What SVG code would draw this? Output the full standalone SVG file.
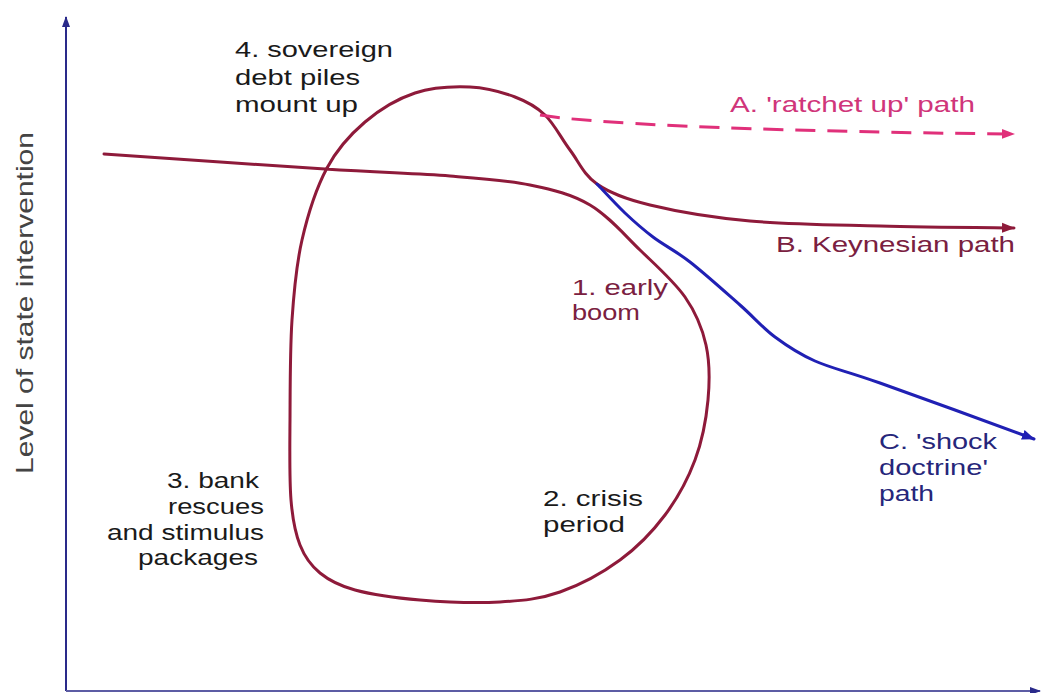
<svg xmlns="http://www.w3.org/2000/svg" width="1042" height="693" viewBox="0 0 1042 693">
<style>
  text { font-family: "Liberation Sans", Arial, sans-serif; font-size: 22px; }
  .blk { fill: #1a1a1a; }
  .red { fill: #7a2040; }
  .pink { fill: #d0357a; }
  .blue { fill: #26267a; }
  .ylab { fill: #444; font-size: 24px; }
  .curve { fill: none; stroke: #8e1a3a; stroke-width: 3; stroke-linecap: round; stroke-linejoin: round; }
  .shock { fill: none; stroke: #2020b4; stroke-width: 3; stroke-linecap: round; }
  .ratchet { fill: none; stroke: #e0307a; stroke-width: 3; stroke-dasharray: 20 12; }
  .axis { fill: none; stroke: #2a2a8a; stroke-width: 2; }
  .axisx { fill: none; stroke: #5c5ca4; stroke-width: 2; }
</style>
<defs>
  <marker id="arrRed" markerUnits="userSpaceOnUse" markerWidth="14" markerHeight="12" refX="12" refY="6" orient="auto">
    <path d="M0,1 L13,6 L0,11 Z" fill="#8e1a3a"/>
  </marker>
  <marker id="arrPink" markerUnits="userSpaceOnUse" markerWidth="14" markerHeight="12" refX="12" refY="6" orient="auto">
    <path d="M0,1 L13,6 L0,11 Z" fill="#e0307a"/>
  </marker>
  <marker id="arrBlue" markerUnits="userSpaceOnUse" markerWidth="14" markerHeight="12" refX="12" refY="6" orient="auto">
    <path d="M0,1 L13,6 L0,11 Z" fill="#2020b4"/>
  </marker>
  <marker id="arrAxis" markerUnits="userSpaceOnUse" markerWidth="12" markerHeight="10" refX="10" refY="5" orient="auto">
    <path d="M0,1 L11,5 L0,9 Z" fill="#2a2a8a"/>
  </marker>
</defs>

<g id="axes">
  <line class="axis" x1="66" y1="691" x2="66" y2="17" marker-end="url(#arrAxis)"/>
  <line class="axisx" x1="66" y1="691" x2="1040" y2="691" marker-end="url(#arrAxis)"/>
  <text class="ylab" transform="translate(33,303) rotate(-90)" text-anchor="middle" textLength="342" lengthAdjust="spacingAndGlyphs">Level of state intervention</text>
</g>

<g id="connectors">
  <path id="cycle-and-B" class="curve" marker-end="url(#arrRed)" d="M104,154 C140.8,156.5 267.3,165.3 325,169 C382.7,172.7 415.8,173.3 450,176 C484.2,178.7 506.7,180.2 530,185 C553.3,189.8 571.7,194.2 590,205 C608.3,215.8 624.2,234.7 640,250 C655.8,265.3 674,281.2 685,297 C696,312.8 702.2,327.8 706,345 C709.8,362.2 709.8,380.8 708,400 C706.2,419.2 702.2,440.8 695,460 C687.8,479.2 677.5,498.3 665,515 C652.5,531.7 637.5,547.2 620,560 C602.5,572.8 580,585 560,592 C540,599 523.3,600.7 500,602 C476.7,603.3 444.2,602 420,600 C395.8,598 371.7,594.5 355,590 C338.3,585.5 329.2,580.5 320,573 C310.8,565.5 304.8,557.2 300,545 C295.2,532.8 292.7,520.8 291,500 C289.3,479.2 289.8,450 290,420 C290.2,390 290,350 292,320 C294,290 296.2,265.3 302,240 C307.8,214.7 316.5,187.7 327,168 C337.5,148.3 350.3,134.5 365,122 C379.7,109.5 397.5,98.8 415,93 C432.5,87.2 453.3,86.3 470,87 C486.7,87.7 502.5,92.3 515,97 C527.5,101.7 535.8,106.2 545,115 C554.2,123.8 561.3,138.5 570,150 C578.7,161.5 583.7,174.8 597,184 C610.3,193.2 624.5,198.8 650,205 C675.5,211.2 711.7,217.5 750,221 C788.3,224.5 836.3,224.8 880,226 C923.7,227.2 990,227.7 1014,228"/>
  <path id="path-A" class="ratchet" marker-end="url(#arrPink)" d="M540,115 C600,125 800,132 1014,134"/>
  <path id="path-C" class="shock" marker-end="url(#arrBlue)" d="M597,184 C601.7,188.8 615.7,204.2 625,213 C634.3,221.8 642.2,228.8 653,237 C663.8,245.2 675.5,250.7 690,262 C704.5,273.3 725.8,292.5 740,305 C754.2,317.5 762.5,327.7 775,337 C787.5,346.3 797.5,353.3 815,361 C832.5,368.7 844.2,370.3 880,383 C915.8,395.7 1005,428 1034,439"/>
</g>

<g id="label-4">
  <text class="blk" x="235" y="57" textLength="158" lengthAdjust="spacingAndGlyphs">4. sovereign</text>
  <text class="blk" x="235" y="85" textLength="125" lengthAdjust="spacingAndGlyphs">debt piles</text>
  <text class="blk" x="235" y="112" textLength="123" lengthAdjust="spacingAndGlyphs">mount up</text>
</g>
<g id="label-A">
  <text class="pink" x="730" y="112" textLength="245" lengthAdjust="spacingAndGlyphs">A. 'ratchet up' path</text>
</g>
<g id="label-B">
  <text class="red" x="776" y="252" textLength="239" lengthAdjust="spacingAndGlyphs">B. Keynesian path</text>
</g>
<g id="label-1">
  <text class="red" x="572" y="295" textLength="96" lengthAdjust="spacingAndGlyphs">1. early</text>
  <text class="red" x="572" y="320" textLength="68" lengthAdjust="spacingAndGlyphs">boom</text>
</g>
<g id="label-C">
  <text class="blue" x="879" y="449" textLength="118" lengthAdjust="spacingAndGlyphs">C. 'shock</text>
  <text class="blue" x="879" y="475" textLength="109" lengthAdjust="spacingAndGlyphs">doctrine'</text>
  <text class="blue" x="879" y="501" textLength="55" lengthAdjust="spacingAndGlyphs">path</text>
</g>
<g id="label-3">
  <text class="blk" x="259" y="488" text-anchor="end" textLength="92" lengthAdjust="spacingAndGlyphs">3. bank</text>
  <text class="blk" x="264" y="514" text-anchor="end" textLength="96" lengthAdjust="spacingAndGlyphs">rescues</text>
  <text class="blk" x="264" y="540" text-anchor="end" textLength="157" lengthAdjust="spacingAndGlyphs">and stimulus</text>
  <text class="blk" x="258" y="565" text-anchor="end" textLength="120" lengthAdjust="spacingAndGlyphs">packages</text>
</g>
<g id="label-2">
  <text class="blk" x="543" y="506" textLength="100" lengthAdjust="spacingAndGlyphs">2. crisis</text>
  <text class="blk" x="543" y="532" textLength="82" lengthAdjust="spacingAndGlyphs">period</text>
</g>
</svg>
